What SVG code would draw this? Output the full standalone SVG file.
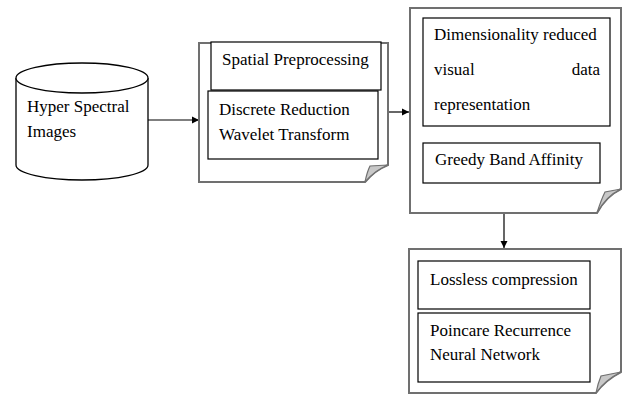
<svg xmlns="http://www.w3.org/2000/svg" width="623" height="394" viewBox="0 0 623 394">
<defs>
<style>
.t{font-family:"Liberation Serif","Times New Roman",serif;font-size:17px;fill:#000}
.doc{fill:#fff;stroke:#707070;stroke-width:2}
.fold{fill:#c8c8c8;stroke:#707070;stroke-width:1.2}
.box{fill:#fff;stroke:#000;stroke-width:1.2}
.cyl{fill:#fff;stroke:#000;stroke-width:1.3}
.con{fill:none;stroke:#000;stroke-width:1.2}
</style>
<marker id="ah" markerWidth="8" markerHeight="8" refX="7" refY="4" orient="auto" markerUnits="userSpaceOnUse">
<path d="M0,0.5 L7,4 L0,7.5 Z" fill="#000"/>
</marker>
</defs>
<rect width="623" height="394" fill="#fff"/>

<g id="connectors">
<line class="con" x1="148" y1="120" x2="199" y2="120" marker-end="url(#ah)"/>
<line class="con" x1="389" y1="112" x2="409" y2="112" marker-end="url(#ah)"/>
<line class="con" x1="504" y1="213" x2="504" y2="248" marker-end="url(#ah)"/>
</g>

<g id="hyper-spectral-images">
<path class="cyl" d="M16,78 L16,165 A66,15 0 0 0 148,165 L148,78"/>
<ellipse class="cyl" cx="82" cy="78" rx="66" ry="15"/>
<text class="t" x="27" y="112">Hyper Spectral</text>
<text class="t" x="27" y="137">Images</text>
</g>

<g id="stage1">
<path class="doc" d="M199,43 L388,43 L388,165 Q375,170 365,182 L199,182 Z"/>
<path class="fold" d="M365,182 Q367,172 370,166 L388,165 Q375,170 365,182 Z"/>
<g id="spatial-preprocessing">
<rect class="box" x="211" y="42" width="170" height="48"/>
<text class="t" x="222" y="65">Spatial Preprocessing</text>
</g>
<g id="discrete-reduction-wavelet-transform">
<rect class="box" x="208" y="91" width="170" height="68"/>
<text class="t" x="219" y="115">Discrete Reduction</text>
<text class="t" x="219" y="140">Wavelet Transform</text>
</g>
</g>

<g id="stage2">
<path class="doc" d="M410,8 L621,8 L621,189 Q606,196 597,213 L410,213 Z"/>
<path class="fold" d="M597,213 Q601,200 605,192 L621,189 Q606,196 597,213 Z"/>
<g id="dimensionality-reduced">
<rect class="box" x="423" y="18" width="187" height="108"/>
<text class="t" x="434" y="40">Dimensionality reduced</text>
<text class="t" x="434" y="75">visual</text>
<text class="t" x="600" y="75" text-anchor="end">data</text>
<text class="t" x="434" y="110">representation</text>
</g>
<g id="greedy-band-affinity">
<rect class="box" x="423" y="143" width="177" height="40"/>
<text class="t" x="435" y="165">Greedy Band Affinity</text>
</g>
</g>

<g id="stage3">
<path class="doc" d="M409,249 L621,249 L621,372 Q605,380 596,393 L409,393 Z"/>
<path class="fold" d="M596,393 Q598,383 601,376 L621,372 Q605,380 596,393 Z"/>
<g id="lossless-compression">
<rect class="box" x="418" y="261" width="172" height="48"/>
<text class="t" x="430" y="285">Lossless compression</text>
</g>
<g id="poincare-recurrence-neural-network">
<rect class="box" x="418" y="313" width="172" height="69"/>
<text class="t" x="430" y="336">Poincare Recurrence</text>
<text class="t" x="430" y="360">Neural Network</text>
</g>
</g>
</svg>
